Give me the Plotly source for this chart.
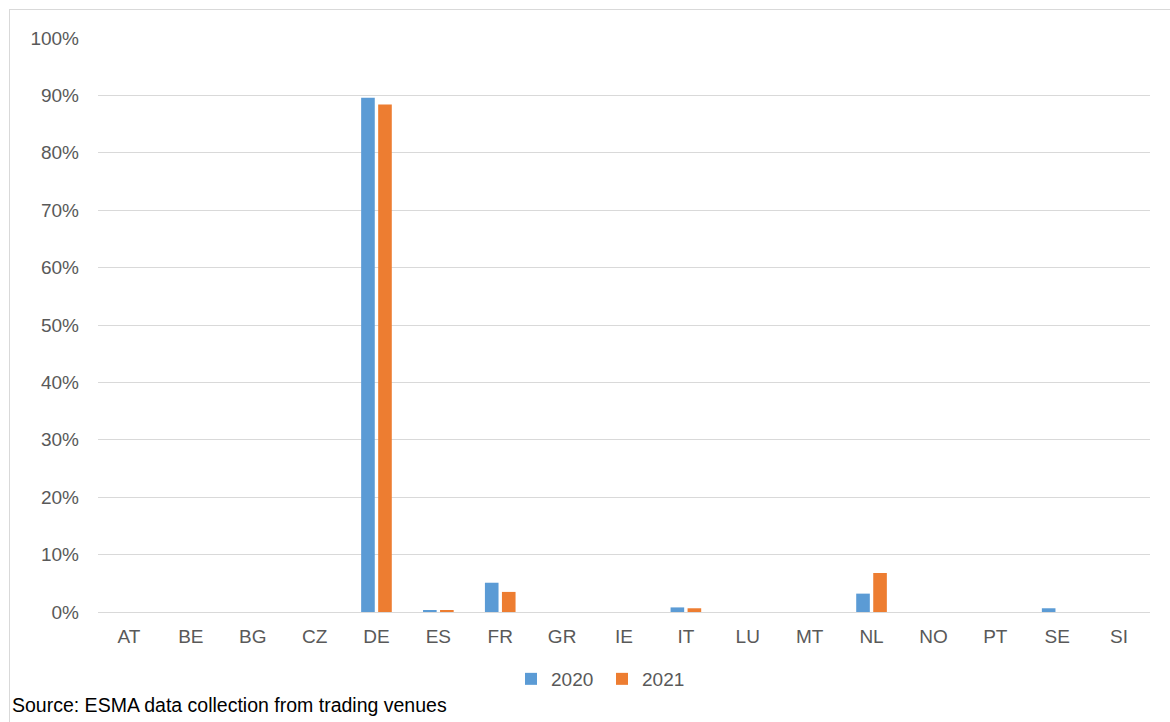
import plotly.graph_objects as go

# Share of trading by country (percent)
countries = ["AT", "BE", "BG", "CZ", "DE", "ES", "FR", "GR", "IE", "IT",
             "LU", "MT", "NL", "NO", "PT", "SE", "SI"]
share_2020 = [0, 0, 0, 0, 89.6, 0.3, 5.1, 0, 0, 0.8, 0, 0, 3.2, 0, 0, 0.65, 0]
share_2021 = [0, 0, 0, 0, 88.4, 0.3, 3.5, 0, 0, 0.65, 0, 0, 6.8, 0, 0, 0, 0]
y_ticks = list(range(0, 101, 10))
y_tick_text = [f"{v}%" for v in y_ticks]

W, H = 1170, 722
L, R, T, B = 98, 20, 38, 110
pw, ph = W - L - R, H - T - B


def px_x(px):
    return (px - L) / pw


def px_y(py):
    return (H - B - py) / ph


fig = go.Figure()
fig.add_trace(go.Bar(x=countries, y=share_2020, name="2020",
                     marker=dict(color="#5B9BD5", line=dict(width=0))))
fig.add_trace(go.Bar(x=countries, y=share_2021, name="2021",
                     marker=dict(color="#ED7D31", line=dict(width=0))))

family = "Liberation Sans, Arial, sans-serif"
font = dict(family=family, size=19, color="#595959")

fig.update_layout(
    width=W, height=H,
    margin=dict(l=L, r=R, t=T, b=B),
    paper_bgcolor="white", plot_bgcolor="white",
    barmode="group", bargap=0.45, bargroupgap=0.2,
    font=font,
    showlegend=True,
    legend=dict(orientation="h", x=px_x(511), xanchor="left",
                y=px_y(679), yanchor="middle",
                font=dict(family=family, size=19, color="#595959"),
                itemwidth=30, entrywidth=46, entrywidthmode="pixels",
                tracegroupgap=0),
    xaxis=dict(showgrid=False, showline=False, zeroline=False,
               ticks="", ticklabelstandoff=11, tickfont=font),
    yaxis=dict(range=[0, 100], tickvals=y_ticks, ticktext=y_tick_text,
               showgrid=True, gridcolor="#D9D9D9", gridwidth=1,
               zeroline=True, zerolinecolor="#D9D9D9", zerolinewidth=1,
               showline=False, ticks="", ticklabelstandoff=18, tickfont=font),
    shapes=[
        dict(type="line", xref="paper", yref="paper",
             x0=px_x(9), x1=px_x(1175), y0=px_y(9.5), y1=px_y(9.5),
             line=dict(color="#D9D9D9", width=1)),
        dict(type="line", xref="paper", yref="paper",
             x0=px_x(9.5), x1=px_x(9.5), y0=px_y(9), y1=px_y(730),
             line=dict(color="#D9D9D9", width=1)),
    ],
    annotations=[
        dict(text="Source: ESMA data collection from trading venues",
             xref="paper", yref="paper", x=px_x(10), y=px_y(705),
             xanchor="left", yanchor="middle", showarrow=False,
             font=dict(family=family, size=19.5, color="#000000")),
    ],
)

fig.write_html("out.html")
